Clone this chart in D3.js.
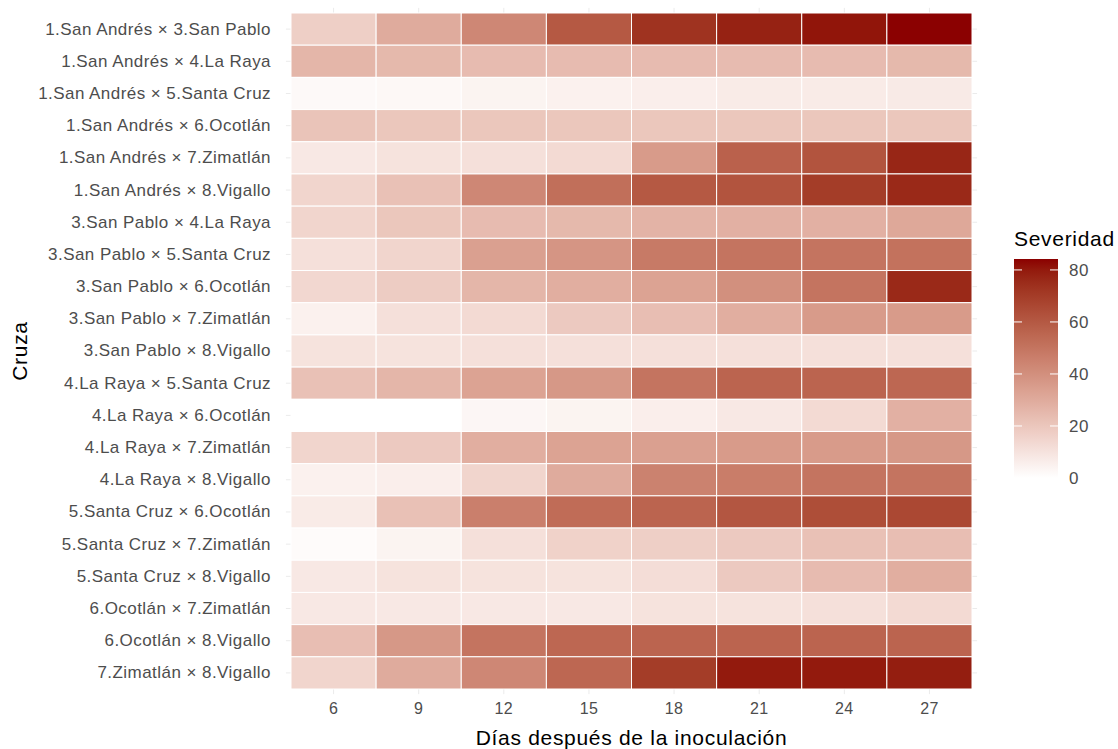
<!DOCTYPE html>
<html>
<head>
<meta charset="utf-8">
<script src="https://cdn.jsdelivr.net/npm/d3@7"></script>
<style>
  body{ margin:0; background:#fff; }
  text{ font-family: "Liberation Sans", Arial, sans-serif; }
</style>
</head>
<body>
<div id="chart"></div>
<script>

// Cruzas (rows, top to bottom) and days after inoculation (columns).
var crosses = [
  '1.San Andrés × 3.San Pablo',
  '1.San Andrés × 4.La Raya',
  '1.San Andrés × 5.Santa Cruz',
  '1.San Andrés × 6.Ocotlán',
  '1.San Andrés × 7.Zimatlán',
  '1.San Andrés × 8.Vigallo',
  '3.San Pablo × 4.La Raya',
  '3.San Pablo × 5.Santa Cruz',
  '3.San Pablo × 6.Ocotlán',
  '3.San Pablo × 7.Zimatlán',
  '3.San Pablo × 8.Vigallo',
  '4.La Raya × 5.Santa Cruz',
  '4.La Raya × 6.Ocotlán',
  '4.La Raya × 7.Zimatlán',
  '4.La Raya × 8.Vigallo',
  '5.Santa Cruz × 6.Ocotlán',
  '5.Santa Cruz × 7.Zimatlán',
  '5.Santa Cruz × 8.Vigallo',
  '6.Ocotlán × 7.Zimatlán',
  '6.Ocotlán × 8.Vigallo',
  '7.Zimatlán × 8.Vigallo'
];

var days = [6, 9, 12, 15, 18, 21, 24, 27];

// Severidad per cruza, one value per day.
var severity = [
  [17, 30, 43, 60, 73, 78, 81, 84],
  [26, 25, 24, 24, 24, 24, 24, 25],
  [2, 2.5, 4, 5, 6, 7, 7, 7.5],
  [21, 20, 20, 20, 20, 20, 20, 20],
  [8, 10, 11, 13, 36, 57, 62, 77],
  [15, 22, 43, 52, 60, 62, 70, 76],
  [15, 20, 24, 25, 27, 28, 28, 31],
  [11, 15, 34, 38, 48, 50, 50, 51],
  [14, 18, 26, 29, 33, 40, 50, 76],
  [5, 11, 13, 19, 23, 29, 36, 36],
  [10, 10, 11, 11, 11, 11, 11, 11],
  [22, 26, 33, 37, 50, 56, 56, 55],
  [0, 0, 3, 4, 6, 8, 13, 28],
  [15, 19, 29, 33, 34, 36, 36, 37],
  [5, 6, 15, 30, 45, 47, 50, 50],
  [7, 22, 46, 53, 56, 61, 64, 66],
  [1.5, 4, 11, 16, 17, 19, 22, 23],
  [8, 10, 10, 10, 12, 19, 24, 29],
  [8, 8, 8, 8, 10, 10, 11, 13],
  [23, 37, 50, 55, 56, 56, 56, 56],
  [15, 30, 43, 55, 70, 80, 80, 79]
];

var legend_ticks = [0, 20, 40, 60, 80];

var settings = {
  width: 1118,
  height: 749,
  plot: { left: 291, right: 972, top: 13, bottom: 689 },
  fill_low: '#ffffff',
  fill_high: '#8B0000',
  fill_max: 84.2,
  grid_color: '#EBEBEB',
  text_color: '#4D4D4D',
  tick_style: 'font-size:17px; letter-spacing:0.45px',
  x_tick_style: 'font-size:16px; letter-spacing:0.3px',
  title_style: 'font-size:21px; letter-spacing:0.7px'
};

var svg = d3.select( '#chart' )
  .append( 'svg' )
    .attr( 'width', settings.width )
    .attr( 'height', settings.height );

var x_scale = d3.scaleBand()
  .domain( days )
  .range( [settings.plot.left, settings.plot.right] )
  .padding( 0 );

var y_scale = d3.scaleBand()
  .domain( crosses )
  .range( [settings.plot.top, settings.plot.bottom] )
  .padding( 0 );

var color = d3.scaleLinear()
  .domain( [0, settings.fill_max] )
  .range( [settings.fill_low, settings.fill_high] )
  .interpolate( d3.interpolateLab );

// Flatten into cells.
var cells = [];
crosses.forEach( function( c, i ){
  days.forEach( function( d, j ){
    cells.push( { cross: c, day: d, value: severity[i][j] } );
  } );
} );

// Grid lines, stick out a little beyond the tiles like ggplot's panel.
var ext_x = x_scale.bandwidth() * 0.06;
var ext_y = y_scale.bandwidth() * 0.1;
var grid = svg.append( 'g' );
grid.selectAll( 'line.v' )
  .data( days )
  .enter().append( 'line' )
    .attr( 'x1', function( d ){ return x_scale( d ) + x_scale.bandwidth() / 2 } )
    .attr( 'x2', function( d ){ return x_scale( d ) + x_scale.bandwidth() / 2 } )
    .attr( 'y1', settings.plot.top - ext_y * 1.6 )
    .attr( 'y2', settings.plot.bottom + ext_y * 1.6 )
    .attr( 'stroke', settings.grid_color )
    .attr( 'stroke-width', 1 );
grid.selectAll( 'line.h' )
  .data( crosses )
  .enter().append( 'line' )
    .attr( 'y1', function( d ){ return y_scale( d ) + y_scale.bandwidth() / 2 } )
    .attr( 'y2', function( d ){ return y_scale( d ) + y_scale.bandwidth() / 2 } )
    .attr( 'x1', settings.plot.left - ext_x )
    .attr( 'x2', settings.plot.right + ext_x )
    .attr( 'stroke', settings.grid_color )
    .attr( 'stroke-width', 1 );

// Tiles.
svg.append( 'g' )
  .selectAll( 'rect' )
  .data( cells )
  .enter().append( 'rect' )
    .attr( 'x', function( d ){ return x_scale( d.day ) } )
    .attr( 'y', function( d ){ return y_scale( d.cross ) } )
    .attr( 'width', x_scale.bandwidth() )
    .attr( 'height', y_scale.bandwidth() )
    .attr( 'fill', function( d ){ return color( d.value ) } )
    .attr( 'stroke', '#ffffff' )
    .attr( 'stroke-width', 1 );

// Axes (no domain lines, no ticks, just labels).
var x_axis = svg.append( 'g' )
  .attr( 'transform', 'translate(0,' + ( settings.plot.bottom + 9 ) + ')' )
  .call( d3.axisBottom( x_scale ).tickSize( 0 ).tickPadding( 5 ) );
x_axis.select( '.domain' ).remove();
x_axis.selectAll( 'text' )
  .attr( 'fill', settings.text_color )
  .attr( 'style', settings.x_tick_style );

var y_axis = svg.append( 'g' )
  .attr( 'transform', 'translate(' + ( settings.plot.left - 6 ) + ',0)' )
  .call( d3.axisLeft( y_scale ).tickSize( 0 ).tickPadding( 14 ) );
y_axis.select( '.domain' ).remove();
y_axis.selectAll( 'text' )
  .attr( 'fill', settings.text_color )
  .attr( 'style', settings.tick_style );

// Axis titles.
svg.append( 'text' )
  .attr( 'x', ( settings.plot.left + settings.plot.right ) / 2 )
  .attr( 'y', 745 )
  .attr( 'text-anchor', 'middle' )
  .attr( 'style', settings.title_style )
  .attr( 'fill', '#000' )
  .text( 'Días después de la inoculación' );

svg.append( 'g' )
  .attr( 'transform', 'translate(27,' + ( ( settings.plot.top + settings.plot.bottom ) / 2 ) + ')' )
  .append( 'text' )
    .attr( 'text-anchor', 'middle' )
    .attr( 'transform', 'rotate(-90)' )
    .attr( 'style', settings.title_style )
    .attr( 'fill', '#000' )
    .text( 'Cruza' );

// Legend: colour bar.
var legend = { x: 1014, top: 259, bottom: 478, width: 44 };
var legend_scale = d3.scaleLinear()
  .domain( [0, settings.fill_max] )
  .range( [legend.bottom, legend.top] );

var grad = svg.append( 'defs' )
  .append( 'linearGradient' )
    .attr( 'id', 'sev_grad' )
    .attr( 'x1', 0 ).attr( 'y1', 1 )
    .attr( 'x2', 0 ).attr( 'y2', 0 );
d3.range( 0, 1.0001, 0.05 ).forEach( function( t ){
  grad.append( 'stop' )
    .attr( 'offset', t )
    .attr( 'stop-color', color( t * settings.fill_max ) );
} );

svg.append( 'rect' )
  .attr( 'x', legend.x )
  .attr( 'y', legend.top )
  .attr( 'width', legend.width )
  .attr( 'height', legend.bottom - legend.top )
  .attr( 'fill', 'url(#sev_grad)' );

var lt = svg.append( 'g' )
  .selectAll( 'g' )
  .data( legend_ticks )
  .enter().append( 'g' )
    .attr( 'transform', function( d ){ return 'translate(0,' + legend_scale( d ) + ')' } );
lt.append( 'line' )
  .attr( 'x1', legend.x ).attr( 'x2', legend.x + 8 )
  .attr( 'stroke', '#fff' ).attr( 'stroke-width', 1 );
lt.append( 'line' )
  .attr( 'x1', legend.x + legend.width - 8 ).attr( 'x2', legend.x + legend.width )
  .attr( 'stroke', '#fff' ).attr( 'stroke-width', 1 );
lt.append( 'text' )
  .attr( 'x', legend.x + legend.width + 11 )
  .attr( 'dy', '0.35em' )
  .attr( 'style', settings.tick_style )
  .attr( 'fill', settings.text_color )
  .text( function( d ){ return d } );

svg.append( 'text' )
  .attr( 'x', legend.x )
  .attr( 'y', 246 )
  .attr( 'style', settings.title_style )
  .attr( 'fill', '#000' )
  .text( 'Severidad' );

</script>
</body>
</html>
